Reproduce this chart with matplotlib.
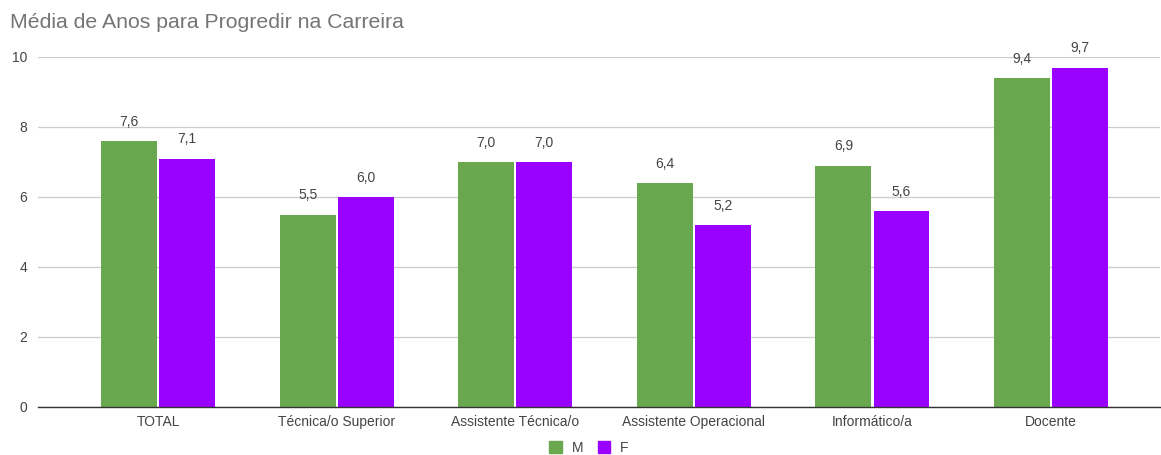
import numpy as np
import matplotlib.pyplot as plt
from matplotlib.patches import Patch

plt.rcParams["font.family"] = ["Liberation Sans", "DejaVu Sans"]

categories = ["TOTAL", "Técnica/o Superior", "Assistente Técnica/o",
              "Assistente Operacional", "Informático/a", "Docente"]
m_vals = [7.6, 5.5, 7.0, 6.4, 6.9, 9.4]
f_vals = [7.1, 6.0, 7.0, 5.2, 5.6, 9.7]

GREEN = "#6aa84f"
PURPLE = "#9900ff"
TXT = "#444444"

fig = plt.figure(figsize=(11.61, 4.55), dpi=100)
ax = fig.add_axes([38 / 1161, 1 - 407 / 455, 1122 / 1161, 350 / 455])

x = np.arange(len(categories))
w = 0.313
gap = 0.006
ax.bar(x - w / 2 - gap, m_vals, w, color=GREEN, zorder=3)
ax.bar(x + w / 2 + gap, f_vals, w, color=PURPLE, zorder=3)

for xi, v in zip(x - w / 2 - gap, m_vals):
    ax.text(xi, v + 0.35, f"{v:.1f}".replace(".", ","), ha="center", va="bottom",
            fontsize=10, color=TXT)
for xi, v in zip(x + w / 2 + gap, f_vals):
    ax.text(xi, v + 0.35, f"{v:.1f}".replace(".", ","), ha="center", va="bottom",
            fontsize=10, color=TXT)

ax.set_xlim(-0.672, 5.61)
ax.set_ylim(0, 10)
ax.set_yticks([0, 2, 4, 6, 8, 10])
ax.set_xticks(x)
ax.set_xticklabels(categories)
ax.tick_params(axis="both", length=0, labelsize=10, colors=TXT)
ax.tick_params(axis="y", pad=8)
ax.tick_params(axis="x", pad=6)
ax.grid(axis="y", color="#cccccc", lw=0.9, zorder=0)
for s in ["top", "right", "left"]:
    ax.spines[s].set_visible(False)
ax.spines["bottom"].set_color("#333333")
ax.spines["bottom"].set_linewidth(1.0)
ax.spines["bottom"].set_zorder(4)

fig.text(10 / 1161, 1 - 22 / 455, "Média de Anos para Progredir na Carreira",
         fontsize=15.3, color="#757575", va="center", ha="left")

handles = [Patch(color=GREEN, label="M"), Patch(color=PURPLE, label="F")]
fig.legend(handles=handles, loc="center", bbox_to_anchor=(589 / 1161, 1 - 448 / 455),
           ncol=2, frameon=False, fontsize=10, handlelength=0.9, handleheight=0.9,
           handletextpad=0.7, columnspacing=1.05, labelcolor=TXT)

fig.savefig("out.png", dpi=100, facecolor="white")
